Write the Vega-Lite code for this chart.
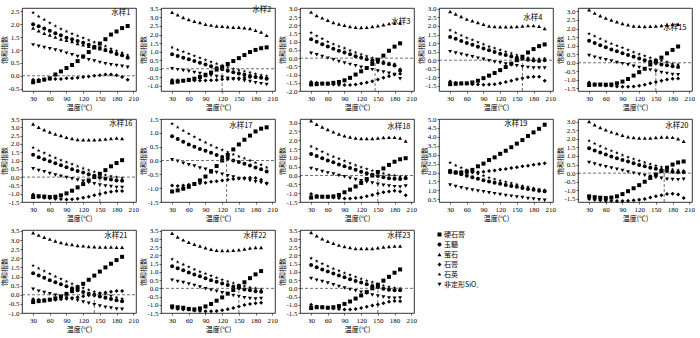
{
"$schema":"https://vega.github.io/schema/vega-lite/v6.json",
"autosize":{"type":"pad"},
"padding":{"left":0,"top":4,"right":0,"bottom":0},
"config":{
"view":{"stroke":"black","strokeWidth":0.8},
"axis":{"grid":false,"domain":false,"tickColor":"black","tickSize":2,"tickWidth":0.6,"labelFont":"Liberation Serif","labelFontSize":7,"labelColor":"black","labelPadding":1,"labelOverlap":false,"labelFlush":false,"labelBound":false,"titleFont":"Noto Sans CJK SC","titleFontSize":7,"titleFontWeight":"normal","titleColor":"black"},
"axisX":{"titlePadding":2},
"axisY":{"titlePadding":0},
"title":{"anchor":"end","font":"Noto Sans CJK SC","fontSize":7.5,"fontWeight":"normal","color":"black"},
"legend":{"orient":"none","legendX":414,"legendY":223,"labelFont":"Noto Sans CJK SC","labelFontSize":7,"labelColor":"black","symbolSize":16,"rowPadding":-1,"labelOffset":1},
"point":{"filled":true,"size":16,"color":"black","opacity":1},
"rule":{"strokeDash":[3,2],"color":"#333","strokeWidth":0.7},
"range":{"symbol":["square","circle","triangle-up","diamond","M0,-1L0.24,-0.33L0.95,-0.31L0.38,0.12L0.59,0.81L0,0.4L-0.59,0.81L-0.38,0.12L-0.95,-0.31L-0.24,-0.33Z","triangle-down"]}
},
"resolve":{"scale":{"x":"independent","y":"independent","shape":"shared"},"legend":{"shape":"shared"}},
"columns":5,
"spacing":{"row":28,"column":25},
"bounds":"flush",
"datasets":{
"names":[{"m":"a","n":"硬石膏"},{"m":"b","n":"玉髓"},{"m":"c","n":"萤石"},{"m":"d","n":"石膏"},{"m":"e","n":"石英"},{"m":"f","n":"非定形SiO₂"}],
"p1":[
{"m":"a","t":30,"v":-0.25},{"m":"a","t":40,"v":-0.2},{"m":"a","t":50,"v":-0.15},{"m":"a","t":60,"v":-0.1},{"m":"a","t":70,"v":0.05},{"m":"a","t":80,"v":0.17},{"m":"a","t":90,"v":0.3},{"m":"a","t":100,"v":0.42},{"m":"a","t":110,"v":0.57},{"m":"a","t":120,"v":0.75},{"m":"a","t":130,"v":0.92},{"m":"a","t":140,"v":1.1},{"m":"a","t":150,"v":1.25},{"m":"a","t":160,"v":1.42},{"m":"a","t":170,"v":1.6},{"m":"a","t":180,"v":1.72},{"m":"a","t":190,"v":1.85},{"m":"a","t":200,"v":1.93},
{"m":"b","t":30,"v":2.0},{"m":"b","t":40,"v":1.92},{"m":"b","t":50,"v":1.83},{"m":"b","t":60,"v":1.75},{"m":"b","t":70,"v":1.65},{"m":"b","t":80,"v":1.57},{"m":"b","t":90,"v":1.48},{"m":"b","t":100,"v":1.42},{"m":"b","t":110,"v":1.35},{"m":"b","t":120,"v":1.28},{"m":"b","t":130,"v":1.2},{"m":"b","t":140,"v":1.13},{"m":"b","t":150,"v":1.08},{"m":"b","t":160,"v":1.0},{"m":"b","t":170,"v":0.93},{"m":"b","t":180,"v":0.85},{"m":"b","t":190,"v":0.8},{"m":"b","t":200,"v":0.7},
{"m":"c","t":30,"v":1.85},{"m":"c","t":40,"v":1.75},{"m":"c","t":50,"v":1.65},{"m":"c","t":60,"v":1.58},{"m":"c","t":70,"v":1.5},{"m":"c","t":80,"v":1.43},{"m":"c","t":90,"v":1.38},{"m":"c","t":100,"v":1.33},{"m":"c","t":110,"v":1.25},{"m":"c","t":120,"v":1.2},{"m":"c","t":130,"v":1.15},{"m":"c","t":140,"v":1.1},{"m":"c","t":150,"v":1.05},{"m":"c","t":160,"v":1.0},{"m":"c","t":170,"v":0.95},{"m":"c","t":180,"v":0.9},{"m":"c","t":190,"v":0.83},{"m":"c","t":200,"v":0.75},
{"m":"d","t":30,"v":-0.15},{"m":"d","t":40,"v":-0.15},{"m":"d","t":50,"v":-0.13},{"m":"d","t":60,"v":-0.12},{"m":"d","t":70,"v":-0.12},{"m":"d","t":80,"v":-0.12},{"m":"d","t":90,"v":-0.1},{"m":"d","t":100,"v":-0.1},{"m":"d","t":110,"v":-0.08},{"m":"d","t":120,"v":-0.05},{"m":"d","t":130,"v":-0.03},{"m":"d","t":140,"v":0.0},{"m":"d","t":150,"v":0.02},{"m":"d","t":160,"v":0.05},{"m":"d","t":170,"v":0.05},{"m":"d","t":180,"v":0.02},{"m":"d","t":190,"v":-0.05},{"m":"d","t":200,"v":-0.15},
{"m":"e","t":30,"v":2.45},{"m":"e","t":40,"v":2.3},{"m":"e","t":50,"v":2.18},{"m":"e","t":60,"v":2.05},{"m":"e","t":70,"v":1.93},{"m":"e","t":80,"v":1.82},{"m":"e","t":90,"v":1.72},{"m":"e","t":100,"v":1.63},{"m":"e","t":110,"v":1.55},{"m":"e","t":120,"v":1.47},{"m":"e","t":130,"v":1.38},{"m":"e","t":140,"v":1.3},{"m":"e","t":150,"v":1.24},{"m":"e","t":160,"v":1.15},{"m":"e","t":170,"v":1.05},{"m":"e","t":180,"v":0.97},{"m":"e","t":190,"v":0.9},{"m":"e","t":200,"v":0.8},
{"m":"f","t":30,"v":1.2},{"m":"f","t":40,"v":1.15},{"m":"f","t":50,"v":1.1},{"m":"f","t":60,"v":1.05},{"m":"f","t":70,"v":1.0},{"m":"f","t":80,"v":0.95},{"m":"f","t":90,"v":0.88},{"m":"f","t":100,"v":0.82},{"m":"f","t":110,"v":0.75},{"m":"f","t":120,"v":0.7},{"m":"f","t":130,"v":0.62},{"m":"f","t":140,"v":0.57},{"m":"f","t":150,"v":0.52},{"m":"f","t":160,"v":0.47},{"m":"f","t":170,"v":0.43},{"m":"f","t":180,"v":0.4},{"m":"f","t":190,"v":0.37},{"m":"f","t":200,"v":0.33}
],
"p2":[
{"m":"a","t":30,"v":-0.8},{"m":"a","t":40,"v":-0.75},{"m":"a","t":50,"v":-0.7},{"m":"a","t":60,"v":-0.65},{"m":"a","t":70,"v":-0.58},{"m":"a","t":80,"v":-0.48},{"m":"a","t":90,"v":-0.38},{"m":"a","t":100,"v":-0.22},{"m":"a","t":110,"v":-0.05},{"m":"a","t":120,"v":0.1},{"m":"a","t":130,"v":0.28},{"m":"a","t":140,"v":0.45},{"m":"a","t":150,"v":0.62},{"m":"a","t":160,"v":0.8},{"m":"a","t":170,"v":0.98},{"m":"a","t":180,"v":1.1},{"m":"a","t":190,"v":1.2},{"m":"a","t":200,"v":1.25},
{"m":"b","t":30,"v":0.85},{"m":"b","t":40,"v":0.75},{"m":"b","t":50,"v":0.65},{"m":"b","t":60,"v":0.55},{"m":"b","t":70,"v":0.45},{"m":"b","t":80,"v":0.35},{"m":"b","t":90,"v":0.25},{"m":"b","t":100,"v":0.15},{"m":"b","t":110,"v":0.05},{"m":"b","t":120,"v":-0.03},{"m":"b","t":130,"v":-0.12},{"m":"b","t":140,"v":-0.2},{"m":"b","t":150,"v":-0.28},{"m":"b","t":160,"v":-0.35},{"m":"b","t":170,"v":-0.42},{"m":"b","t":180,"v":-0.48},{"m":"b","t":190,"v":-0.53},{"m":"b","t":200,"v":-0.58},
{"m":"c","t":30,"v":3.3},{"m":"c","t":40,"v":3.15},{"m":"c","t":50,"v":3.0},{"m":"c","t":60,"v":2.88},{"m":"c","t":70,"v":2.78},{"m":"c","t":80,"v":2.7},{"m":"c","t":90,"v":2.6},{"m":"c","t":100,"v":2.55},{"m":"c","t":110,"v":2.5},{"m":"c","t":120,"v":2.48},{"m":"c","t":130,"v":2.45},{"m":"c","t":140,"v":2.43},{"m":"c","t":150,"v":2.42},{"m":"c","t":160,"v":2.4},{"m":"c","t":170,"v":2.35},{"m":"c","t":180,"v":2.25},{"m":"c","t":190,"v":2.15},{"m":"c","t":200,"v":1.95},
{"m":"d","t":30,"v":-0.65},{"m":"d","t":40,"v":-0.67},{"m":"d","t":50,"v":-0.68},{"m":"d","t":60,"v":-0.68},{"m":"d","t":70,"v":-0.68},{"m":"d","t":80,"v":-0.68},{"m":"d","t":90,"v":-0.68},{"m":"d","t":100,"v":-0.67},{"m":"d","t":110,"v":-0.65},{"m":"d","t":120,"v":-0.62},{"m":"d","t":130,"v":-0.6},{"m":"d","t":140,"v":-0.58},{"m":"d","t":150,"v":-0.55},{"m":"d","t":160,"v":-0.53},{"m":"d","t":170,"v":-0.5},{"m":"d","t":180,"v":-0.48},{"m":"d","t":190,"v":-0.5},{"m":"d","t":200,"v":-0.55},
{"m":"e","t":30,"v":1.25},{"m":"e","t":40,"v":1.12},{"m":"e","t":50,"v":1.0},{"m":"e","t":60,"v":0.88},{"m":"e","t":70,"v":0.75},{"m":"e","t":80,"v":0.63},{"m":"e","t":90,"v":0.52},{"m":"e","t":100,"v":0.4},{"m":"e","t":110,"v":0.3},{"m":"e","t":120,"v":0.2},{"m":"e","t":130,"v":0.1},{"m":"e","t":140,"v":0.0},{"m":"e","t":150,"v":-0.08},{"m":"e","t":160,"v":-0.15},{"m":"e","t":170,"v":-0.22},{"m":"e","t":180,"v":-0.3},{"m":"e","t":190,"v":-0.37},{"m":"e","t":200,"v":-0.43},
{"m":"f","t":30,"v":0.0},{"m":"f","t":40,"v":-0.05},{"m":"f","t":50,"v":-0.1},{"m":"f","t":60,"v":-0.15},{"m":"f","t":70,"v":-0.22},{"m":"f","t":80,"v":-0.28},{"m":"f","t":90,"v":-0.33},{"m":"f","t":100,"v":-0.4},{"m":"f","t":110,"v":-0.45},{"m":"f","t":120,"v":-0.5},{"m":"f","t":130,"v":-0.55},{"m":"f","t":140,"v":-0.6},{"m":"f","t":150,"v":-0.65},{"m":"f","t":160,"v":-0.7},{"m":"f","t":170,"v":-0.75},{"m":"f","t":180,"v":-0.82},{"m":"f","t":190,"v":-0.87},{"m":"f","t":200,"v":-0.92}
],
"p3":[
{"m":"a","t":30,"v":-1.6},{"m":"a","t":40,"v":-1.58},{"m":"a","t":50,"v":-1.55},{"m":"a","t":60,"v":-1.55},{"m":"a","t":70,"v":-1.5},{"m":"a","t":80,"v":-1.45},{"m":"a","t":90,"v":-1.35},{"m":"a","t":100,"v":-1.2},{"m":"a","t":110,"v":-1.0},{"m":"a","t":120,"v":-0.8},{"m":"a","t":130,"v":-0.6},{"m":"a","t":140,"v":-0.35},{"m":"a","t":150,"v":-0.1},{"m":"a","t":160,"v":0.15},{"m":"a","t":170,"v":0.45},{"m":"a","t":180,"v":0.7},{"m":"a","t":190,"v":0.9},
{"m":"b","t":30,"v":1.15},{"m":"b","t":40,"v":1.0},{"m":"b","t":50,"v":0.85},{"m":"b","t":60,"v":0.7},{"m":"b","t":70,"v":0.57},{"m":"b","t":80,"v":0.45},{"m":"b","t":90,"v":0.35},{"m":"b","t":100,"v":0.23},{"m":"b","t":110,"v":0.12},{"m":"b","t":120,"v":0.02},{"m":"b","t":130,"v":-0.07},{"m":"b","t":140,"v":-0.15},{"m":"b","t":150,"v":-0.23},{"m":"b","t":160,"v":-0.3},{"m":"b","t":170,"v":-0.38},{"m":"b","t":180,"v":-0.45},{"m":"b","t":190,"v":-0.75},
{"m":"c","t":30,"v":2.8},{"m":"c","t":40,"v":2.6},{"m":"c","t":50,"v":2.45},{"m":"c","t":60,"v":2.3},{"m":"c","t":70,"v":2.17},{"m":"c","t":80,"v":2.07},{"m":"c","t":90,"v":2.0},{"m":"c","t":100,"v":1.93},{"m":"c","t":110,"v":1.88},{"m":"c","t":120,"v":1.87},{"m":"c","t":130,"v":1.88},{"m":"c","t":140,"v":1.92},{"m":"c","t":150,"v":1.97},{"m":"c","t":160,"v":2.03},{"m":"c","t":170,"v":2.1},{"m":"c","t":180,"v":2.13},{"m":"c","t":190,"v":2.13},
{"m":"d","t":30,"v":-1.45},{"m":"d","t":40,"v":-1.5},{"m":"d","t":50,"v":-1.55},{"m":"d","t":60,"v":-1.58},{"m":"d","t":70,"v":-1.6},{"m":"d","t":80,"v":-1.62},{"m":"d","t":90,"v":-1.63},{"m":"d","t":100,"v":-1.63},{"m":"d","t":110,"v":-1.6},{"m":"d","t":120,"v":-1.55},{"m":"d","t":130,"v":-1.48},{"m":"d","t":140,"v":-1.4},{"m":"d","t":150,"v":-1.3},{"m":"d","t":160,"v":-1.2},{"m":"d","t":170,"v":-1.1},{"m":"d","t":180,"v":-1.0},{"m":"d","t":190,"v":-0.95},
{"m":"e","t":30,"v":1.55},{"m":"e","t":40,"v":1.35},{"m":"e","t":50,"v":1.18},{"m":"e","t":60,"v":1.0},{"m":"e","t":70,"v":0.85},{"m":"e","t":80,"v":0.72},{"m":"e","t":90,"v":0.6},{"m":"e","t":100,"v":0.47},{"m":"e","t":110,"v":0.35},{"m":"e","t":120,"v":0.23},{"m":"e","t":130,"v":0.12},{"m":"e","t":140,"v":0.02},{"m":"e","t":150,"v":-0.1},{"m":"e","t":160,"v":-0.2},{"m":"e","t":170,"v":-0.3},{"m":"e","t":180,"v":-0.35},{"m":"e","t":190,"v":-0.65},
{"m":"f","t":30,"v":0.3},{"m":"f","t":40,"v":0.2},{"m":"f","t":50,"v":0.1},{"m":"f","t":60,"v":0.0},{"m":"f","t":70,"v":-0.1},{"m":"f","t":80,"v":-0.2},{"m":"f","t":90,"v":-0.3},{"m":"f","t":100,"v":-0.38},{"m":"f","t":110,"v":-0.47},{"m":"f","t":120,"v":-0.55},{"m":"f","t":130,"v":-0.63},{"m":"f","t":140,"v":-0.7},{"m":"f","t":150,"v":-0.78},{"m":"f","t":160,"v":-0.85},{"m":"f","t":170,"v":-0.92},{"m":"f","t":180,"v":-1.0},{"m":"f","t":190,"v":-1.25}
],
"p4":[
{"m":"a","t":30,"v":-1.4},{"m":"a","t":40,"v":-1.38},{"m":"a","t":50,"v":-1.36},{"m":"a","t":60,"v":-1.35},{"m":"a","t":70,"v":-1.3},{"m":"a","t":80,"v":-1.2},{"m":"a","t":90,"v":-1.05},{"m":"a","t":100,"v":-0.9},{"m":"a","t":110,"v":-0.75},{"m":"a","t":120,"v":-0.58},{"m":"a","t":130,"v":-0.4},{"m":"a","t":140,"v":-0.2},{"m":"a","t":150,"v":0.0},{"m":"a","t":160,"v":0.2},{"m":"a","t":170,"v":0.45},{"m":"a","t":180,"v":0.65},{"m":"a","t":190,"v":0.82},{"m":"a","t":200,"v":0.92},
{"m":"b","t":30,"v":1.35},{"m":"b","t":40,"v":1.25},{"m":"b","t":50,"v":1.12},{"m":"b","t":60,"v":1.0},{"m":"b","t":70,"v":0.9},{"m":"b","t":80,"v":0.78},{"m":"b","t":90,"v":0.68},{"m":"b","t":100,"v":0.58},{"m":"b","t":110,"v":0.48},{"m":"b","t":120,"v":0.38},{"m":"b","t":130,"v":0.3},{"m":"b","t":140,"v":0.22},{"m":"b","t":150,"v":0.15},{"m":"b","t":160,"v":0.08},{"m":"b","t":170,"v":0.02},{"m":"b","t":180,"v":-0.02},{"m":"b","t":190,"v":-0.05},{"m":"b","t":200,"v":0.0},
{"m":"c","t":30,"v":2.85},{"m":"c","t":40,"v":2.7},{"m":"c","t":50,"v":2.55},{"m":"c","t":60,"v":2.4},{"m":"c","t":70,"v":2.3},{"m":"c","t":80,"v":2.2},{"m":"c","t":90,"v":2.1},{"m":"c","t":100,"v":2.0},{"m":"c","t":110,"v":1.97},{"m":"c","t":120,"v":1.95},{"m":"c","t":130,"v":1.95},{"m":"c","t":140,"v":1.95},{"m":"c","t":150,"v":1.97},{"m":"c","t":160,"v":2.0},{"m":"c","t":170,"v":2.02},{"m":"c","t":180,"v":2.02},{"m":"c","t":190,"v":1.98},{"m":"c","t":200,"v":1.85},
{"m":"d","t":30,"v":-1.25},{"m":"d","t":40,"v":-1.32},{"m":"d","t":50,"v":-1.35},{"m":"d","t":60,"v":-1.38},{"m":"d","t":70,"v":-1.4},{"m":"d","t":80,"v":-1.42},{"m":"d","t":90,"v":-1.43},{"m":"d","t":100,"v":-1.42},{"m":"d","t":110,"v":-1.4},{"m":"d","t":120,"v":-1.35},{"m":"d","t":130,"v":-1.28},{"m":"d","t":140,"v":-1.2},{"m":"d","t":150,"v":-1.12},{"m":"d","t":160,"v":-1.05},{"m":"d","t":170,"v":-1.0},{"m":"d","t":180,"v":-0.97},{"m":"d","t":190,"v":-0.97},{"m":"d","t":200,"v":-1.2},
{"m":"e","t":30,"v":1.75},{"m":"e","t":40,"v":1.6},{"m":"e","t":50,"v":1.45},{"m":"e","t":60,"v":1.3},{"m":"e","t":70,"v":1.18},{"m":"e","t":80,"v":1.05},{"m":"e","t":90,"v":0.93},{"m":"e","t":100,"v":0.8},{"m":"e","t":110,"v":0.7},{"m":"e","t":120,"v":0.6},{"m":"e","t":130,"v":0.5},{"m":"e","t":140,"v":0.4},{"m":"e","t":150,"v":0.3},{"m":"e","t":160,"v":0.22},{"m":"e","t":170,"v":0.15},{"m":"e","t":180,"v":0.1},{"m":"e","t":190,"v":0.08},{"m":"e","t":200,"v":0.1},
{"m":"f","t":30,"v":0.5},{"m":"f","t":40,"v":0.42},{"m":"f","t":50,"v":0.35},{"m":"f","t":60,"v":0.28},{"m":"f","t":70,"v":0.2},{"m":"f","t":80,"v":0.12},{"m":"f","t":90,"v":0.05},{"m":"f","t":100,"v":-0.03},{"m":"f","t":110,"v":-0.1},{"m":"f","t":120,"v":-0.15},{"m":"f","t":130,"v":-0.22},{"m":"f","t":140,"v":-0.28},{"m":"f","t":150,"v":-0.33},{"m":"f","t":160,"v":-0.38},{"m":"f","t":170,"v":-0.42},{"m":"f","t":180,"v":-0.45},{"m":"f","t":190,"v":-0.45},{"m":"f","t":200,"v":-0.45}
],
"p15":[
{"m":"a","t":30,"v":-1.3},{"m":"a","t":40,"v":-1.28},{"m":"a","t":50,"v":-1.27},{"m":"a","t":60,"v":-1.28},{"m":"a","t":70,"v":-1.27},{"m":"a","t":80,"v":-1.2},{"m":"a","t":90,"v":-1.1},{"m":"a","t":100,"v":-0.95},{"m":"a","t":110,"v":-0.75},{"m":"a","t":120,"v":-0.55},{"m":"a","t":130,"v":-0.35},{"m":"a","t":140,"v":-0.1},{"m":"a","t":150,"v":0.1},{"m":"a","t":160,"v":0.3},{"m":"a","t":170,"v":0.55},{"m":"a","t":180,"v":0.75},{"m":"a","t":190,"v":0.95},
{"m":"b","t":30,"v":1.28},{"m":"b","t":40,"v":1.15},{"m":"b","t":50,"v":1.02},{"m":"b","t":60,"v":0.9},{"m":"b","t":70,"v":0.78},{"m":"b","t":80,"v":0.67},{"m":"b","t":90,"v":0.56},{"m":"b","t":100,"v":0.45},{"m":"b","t":110,"v":0.35},{"m":"b","t":120,"v":0.25},{"m":"b","t":130,"v":0.15},{"m":"b","t":140,"v":0.07},{"m":"b","t":150,"v":-0.02},{"m":"b","t":160,"v":-0.1},{"m":"b","t":170,"v":-0.15},{"m":"b","t":180,"v":-0.2},{"m":"b","t":190,"v":-0.25},
{"m":"c","t":30,"v":3.1},{"m":"c","t":40,"v":2.9},{"m":"c","t":50,"v":2.75},{"m":"c","t":60,"v":2.62},{"m":"c","t":70,"v":2.5},{"m":"c","t":80,"v":2.4},{"m":"c","t":90,"v":2.3},{"m":"c","t":100,"v":2.22},{"m":"c","t":110,"v":2.15},{"m":"c","t":120,"v":2.13},{"m":"c","t":130,"v":2.12},{"m":"c","t":140,"v":2.13},{"m":"c","t":150,"v":2.15},{"m":"c","t":160,"v":2.18},{"m":"c","t":170,"v":2.22},{"m":"c","t":180,"v":2.25},{"m":"c","t":190,"v":2.25},
{"m":"d","t":30,"v":-1.15},{"m":"d","t":40,"v":-1.25},{"m":"d","t":50,"v":-1.3},{"m":"d","t":60,"v":-1.33},{"m":"d","t":70,"v":-1.35},{"m":"d","t":80,"v":-1.38},{"m":"d","t":90,"v":-1.4},{"m":"d","t":100,"v":-1.4},{"m":"d","t":110,"v":-1.38},{"m":"d","t":120,"v":-1.35},{"m":"d","t":130,"v":-1.28},{"m":"d","t":140,"v":-1.2},{"m":"d","t":150,"v":-1.12},{"m":"d","t":160,"v":-1.05},{"m":"d","t":170,"v":-0.98},{"m":"d","t":180,"v":-0.93},{"m":"d","t":190,"v":-0.92},
{"m":"e","t":30,"v":1.7},{"m":"e","t":40,"v":1.55},{"m":"e","t":50,"v":1.4},{"m":"e","t":60,"v":1.25},{"m":"e","t":70,"v":1.12},{"m":"e","t":80,"v":1.0},{"m":"e","t":90,"v":0.88},{"m":"e","t":100,"v":0.75},{"m":"e","t":110,"v":0.62},{"m":"e","t":120,"v":0.5},{"m":"e","t":130,"v":0.4},{"m":"e","t":140,"v":0.3},{"m":"e","t":150,"v":0.2},{"m":"e","t":160,"v":0.12},{"m":"e","t":170,"v":0.05},{"m":"e","t":180,"v":-0.05},{"m":"e","t":190,"v":-0.1},
{"m":"f","t":30,"v":0.42},{"m":"f","t":40,"v":0.33},{"m":"f","t":50,"v":0.25},{"m":"f","t":60,"v":0.17},{"m":"f","t":70,"v":0.1},{"m":"f","t":80,"v":0.02},{"m":"f","t":90,"v":-0.05},{"m":"f","t":100,"v":-0.12},{"m":"f","t":110,"v":-0.2},{"m":"f","t":120,"v":-0.27},{"m":"f","t":130,"v":-0.35},{"m":"f","t":140,"v":-0.42},{"m":"f","t":150,"v":-0.5},{"m":"f","t":160,"v":-0.57},{"m":"f","t":170,"v":-0.62},{"m":"f","t":180,"v":-0.68},{"m":"f","t":190,"v":-0.7}
],
"p16":[
{"m":"a","t":30,"v":-1.2},{"m":"a","t":40,"v":-1.15},{"m":"a","t":50,"v":-1.17},{"m":"a","t":60,"v":-1.2},{"m":"a","t":70,"v":-1.18},{"m":"a","t":80,"v":-1.1},{"m":"a","t":90,"v":-0.98},{"m":"a","t":100,"v":-0.82},{"m":"a","t":110,"v":-0.62},{"m":"a","t":120,"v":-0.42},{"m":"a","t":130,"v":-0.2},{"m":"a","t":140,"v":0.0},{"m":"a","t":150,"v":0.2},{"m":"a","t":160,"v":0.42},{"m":"a","t":170,"v":0.65},{"m":"a","t":180,"v":0.85},{"m":"a","t":190,"v":1.02},
{"m":"b","t":30,"v":1.35},{"m":"b","t":40,"v":1.2},{"m":"b","t":50,"v":1.07},{"m":"b","t":60,"v":0.95},{"m":"b","t":70,"v":0.83},{"m":"b","t":80,"v":0.72},{"m":"b","t":90,"v":0.6},{"m":"b","t":100,"v":0.48},{"m":"b","t":110,"v":0.37},{"m":"b","t":120,"v":0.27},{"m":"b","t":130,"v":0.17},{"m":"b","t":140,"v":0.08},{"m":"b","t":150,"v":-0.02},{"m":"b","t":160,"v":-0.1},{"m":"b","t":170,"v":-0.15},{"m":"b","t":180,"v":-0.2},{"m":"b","t":190,"v":-0.22},
{"m":"c","t":30,"v":3.2},{"m":"c","t":40,"v":3.0},{"m":"c","t":50,"v":2.85},{"m":"c","t":60,"v":2.72},{"m":"c","t":70,"v":2.6},{"m":"c","t":80,"v":2.5},{"m":"c","t":90,"v":2.4},{"m":"c","t":100,"v":2.32},{"m":"c","t":110,"v":2.27},{"m":"c","t":120,"v":2.25},{"m":"c","t":130,"v":2.25},{"m":"c","t":140,"v":2.25},{"m":"c","t":150,"v":2.27},{"m":"c","t":160,"v":2.3},{"m":"c","t":170,"v":2.33},{"m":"c","t":180,"v":2.35},{"m":"c","t":190,"v":2.32},
{"m":"d","t":30,"v":-1.05},{"m":"d","t":40,"v":-1.2},{"m":"d","t":50,"v":-1.25},{"m":"d","t":60,"v":-1.27},{"m":"d","t":70,"v":-1.3},{"m":"d","t":80,"v":-1.32},{"m":"d","t":90,"v":-1.35},{"m":"d","t":100,"v":-1.33},{"m":"d","t":110,"v":-1.3},{"m":"d","t":120,"v":-1.25},{"m":"d","t":130,"v":-1.18},{"m":"d","t":140,"v":-1.1},{"m":"d","t":150,"v":-1.02},{"m":"d","t":160,"v":-0.95},{"m":"d","t":170,"v":-0.88},{"m":"d","t":180,"v":-0.83},{"m":"d","t":190,"v":-0.83},
{"m":"e","t":30,"v":1.78},{"m":"e","t":40,"v":1.6},{"m":"e","t":50,"v":1.45},{"m":"e","t":60,"v":1.3},{"m":"e","t":70,"v":1.15},{"m":"e","t":80,"v":1.02},{"m":"e","t":90,"v":0.9},{"m":"e","t":100,"v":0.78},{"m":"e","t":110,"v":0.65},{"m":"e","t":120,"v":0.53},{"m":"e","t":130,"v":0.42},{"m":"e","t":140,"v":0.32},{"m":"e","t":150,"v":0.22},{"m":"e","t":160,"v":0.12},{"m":"e","t":170,"v":0.05},{"m":"e","t":180,"v":0.0},{"m":"e","t":190,"v":-0.05},
{"m":"f","t":30,"v":0.5},{"m":"f","t":40,"v":0.4},{"m":"f","t":50,"v":0.32},{"m":"f","t":60,"v":0.22},{"m":"f","t":70,"v":0.13},{"m":"f","t":80,"v":0.05},{"m":"f","t":90,"v":-0.03},{"m":"f","t":100,"v":-0.1},{"m":"f","t":110,"v":-0.18},{"m":"f","t":120,"v":-0.25},{"m":"f","t":130,"v":-0.32},{"m":"f","t":140,"v":-0.4},{"m":"f","t":150,"v":-0.47},{"m":"f","t":160,"v":-0.53},{"m":"f","t":170,"v":-0.57},{"m":"f","t":180,"v":-0.62},{"m":"f","t":190,"v":-0.62}
],
"p17":[
{"m":"a","t":30,"v":-1.12},{"m":"a","t":40,"v":-1.08},{"m":"a","t":50,"v":-1.02},{"m":"a","t":60,"v":-0.95},{"m":"a","t":70,"v":-0.85},{"m":"a","t":80,"v":-0.72},{"m":"a","t":90,"v":-0.58},{"m":"a","t":100,"v":-0.4},{"m":"a","t":110,"v":-0.2},{"m":"a","t":120,"v":0.0},{"m":"a","t":130,"v":0.2},{"m":"a","t":140,"v":0.4},{"m":"a","t":150,"v":0.58},{"m":"a","t":160,"v":0.75},{"m":"a","t":170,"v":0.9},{"m":"a","t":180,"v":1.05},{"m":"a","t":190,"v":1.15},{"m":"a","t":200,"v":1.2},
{"m":"b","t":30,"v":0.88},{"m":"b","t":40,"v":0.78},{"m":"b","t":50,"v":0.68},{"m":"b","t":60,"v":0.58},{"m":"b","t":70,"v":0.5},{"m":"b","t":80,"v":0.42},{"m":"b","t":90,"v":0.35},{"m":"b","t":100,"v":0.28},{"m":"b","t":110,"v":0.2},{"m":"b","t":120,"v":0.13},{"m":"b","t":130,"v":0.07},{"m":"b","t":140,"v":0.0},{"m":"b","t":150,"v":-0.05},{"m":"b","t":160,"v":-0.12},{"m":"b","t":170,"v":-0.18},{"m":"b","t":180,"v":-0.25},{"m":"b","t":190,"v":-0.32},{"m":"b","t":200,"v":-0.4},
{"m":"d","t":30,"v":-0.9},{"m":"d","t":40,"v":-0.92},{"m":"d","t":50,"v":-0.9},{"m":"d","t":60,"v":-0.88},{"m":"d","t":70,"v":-0.85},{"m":"d","t":80,"v":-0.82},{"m":"d","t":90,"v":-0.8},{"m":"d","t":100,"v":-0.77},{"m":"d","t":110,"v":-0.75},{"m":"d","t":120,"v":-0.72},{"m":"d","t":130,"v":-0.7},{"m":"d","t":140,"v":-0.67},{"m":"d","t":150,"v":-0.65},{"m":"d","t":160,"v":-0.63},{"m":"d","t":170,"v":-0.62},{"m":"d","t":180,"v":-0.63},{"m":"d","t":190,"v":-0.7},{"m":"d","t":200,"v":-0.82},
{"m":"e","t":30,"v":1.33},{"m":"e","t":40,"v":1.2},{"m":"e","t":50,"v":1.08},{"m":"e","t":60,"v":0.97},{"m":"e","t":70,"v":0.85},{"m":"e","t":80,"v":0.75},{"m":"e","t":90,"v":0.65},{"m":"e","t":100,"v":0.55},{"m":"e","t":110,"v":0.46},{"m":"e","t":120,"v":0.38},{"m":"e","t":130,"v":0.3},{"m":"e","t":140,"v":0.22},{"m":"e","t":150,"v":0.15},{"m":"e","t":160,"v":0.08},{"m":"e","t":170,"v":0.0},{"m":"e","t":180,"v":-0.08},{"m":"e","t":190,"v":-0.15},{"m":"e","t":200,"v":-0.25},
{"m":"f","t":30,"v":0.03},{"m":"f","t":40,"v":-0.03},{"m":"f","t":50,"v":-0.1},{"m":"f","t":60,"v":-0.15},{"m":"f","t":70,"v":-0.2},{"m":"f","t":80,"v":-0.27},{"m":"f","t":90,"v":-0.32},{"m":"f","t":100,"v":-0.38},{"m":"f","t":110,"v":-0.43},{"m":"f","t":120,"v":-0.5},{"m":"f","t":130,"v":-0.55},{"m":"f","t":140,"v":-0.6},{"m":"f","t":150,"v":-0.65},{"m":"f","t":160,"v":-0.68},{"m":"f","t":170,"v":-0.72},{"m":"f","t":180,"v":-0.77},{"m":"f","t":190,"v":-0.8},{"m":"f","t":200,"v":-0.85}
],
"p18":[
{"m":"a","t":30,"v":-1.25},{"m":"a","t":40,"v":-1.2},{"m":"a","t":50,"v":-1.2},{"m":"a","t":60,"v":-1.2},{"m":"a","t":70,"v":-1.18},{"m":"a","t":80,"v":-1.1},{"m":"a","t":90,"v":-0.95},{"m":"a","t":100,"v":-0.8},{"m":"a","t":110,"v":-0.62},{"m":"a","t":120,"v":-0.42},{"m":"a","t":130,"v":-0.2},{"m":"a","t":140,"v":0.0},{"m":"a","t":150,"v":0.2},{"m":"a","t":160,"v":0.4},{"m":"a","t":170,"v":0.6},{"m":"a","t":180,"v":0.78},{"m":"a","t":190,"v":0.92},{"m":"a","t":200,"v":0.98},
{"m":"b","t":30,"v":1.22},{"m":"b","t":40,"v":1.1},{"m":"b","t":50,"v":0.98},{"m":"b","t":60,"v":0.85},{"m":"b","t":70,"v":0.75},{"m":"b","t":80,"v":0.63},{"m":"b","t":90,"v":0.52},{"m":"b","t":100,"v":0.42},{"m":"b","t":110,"v":0.32},{"m":"b","t":120,"v":0.22},{"m":"b","t":130,"v":0.13},{"m":"b","t":140,"v":0.05},{"m":"b","t":150,"v":-0.03},{"m":"b","t":160,"v":-0.1},{"m":"b","t":170,"v":-0.15},{"m":"b","t":180,"v":-0.18},{"m":"b","t":190,"v":-0.2},{"m":"b","t":200,"v":-0.15},
{"m":"c","t":30,"v":3.1},{"m":"c","t":40,"v":2.9},{"m":"c","t":50,"v":2.75},{"m":"c","t":60,"v":2.6},{"m":"c","t":70,"v":2.47},{"m":"c","t":80,"v":2.35},{"m":"c","t":90,"v":2.25},{"m":"c","t":100,"v":2.18},{"m":"c","t":110,"v":2.13},{"m":"c","t":120,"v":2.1},{"m":"c","t":130,"v":2.1},{"m":"c","t":140,"v":2.1},{"m":"c","t":150,"v":2.12},{"m":"c","t":160,"v":2.15},{"m":"c","t":170,"v":2.17},{"m":"c","t":180,"v":2.17},{"m":"c","t":190,"v":2.12},{"m":"c","t":200,"v":1.95},
{"m":"d","t":30,"v":-1.05},{"m":"d","t":40,"v":-1.15},{"m":"d","t":50,"v":-1.2},{"m":"d","t":60,"v":-1.22},{"m":"d","t":70,"v":-1.25},{"m":"d","t":80,"v":-1.28},{"m":"d","t":90,"v":-1.3},{"m":"d","t":100,"v":-1.3},{"m":"d","t":110,"v":-1.28},{"m":"d","t":120,"v":-1.25},{"m":"d","t":130,"v":-1.18},{"m":"d","t":140,"v":-1.1},{"m":"d","t":150,"v":-1.02},{"m":"d","t":160,"v":-0.95},{"m":"d","t":170,"v":-0.9},{"m":"d","t":180,"v":-0.87},{"m":"d","t":190,"v":-0.9},{"m":"d","t":200,"v":-1.12},
{"m":"e","t":30,"v":1.65},{"m":"e","t":40,"v":1.5},{"m":"e","t":50,"v":1.35},{"m":"e","t":60,"v":1.2},{"m":"e","t":70,"v":1.07},{"m":"e","t":80,"v":0.95},{"m":"e","t":90,"v":0.82},{"m":"e","t":100,"v":0.7},{"m":"e","t":110,"v":0.58},{"m":"e","t":120,"v":0.47},{"m":"e","t":130,"v":0.37},{"m":"e","t":140,"v":0.28},{"m":"e","t":150,"v":0.2},{"m":"e","t":160,"v":0.12},{"m":"e","t":170,"v":0.05},{"m":"e","t":180,"v":0.0},{"m":"e","t":190,"v":-0.05},{"m":"e","t":200,"v":-0.05},
{"m":"f","t":30,"v":0.4},{"m":"f","t":40,"v":0.32},{"m":"f","t":50,"v":0.23},{"m":"f","t":60,"v":0.15},{"m":"f","t":70,"v":0.08},{"m":"f","t":80,"v":0.0},{"m":"f","t":90,"v":-0.07},{"m":"f","t":100,"v":-0.15},{"m":"f","t":110,"v":-0.22},{"m":"f","t":120,"v":-0.3},{"m":"f","t":130,"v":-0.37},{"m":"f","t":140,"v":-0.43},{"m":"f","t":150,"v":-0.5},{"m":"f","t":160,"v":-0.55},{"m":"f","t":170,"v":-0.6},{"m":"f","t":180,"v":-0.63},{"m":"f","t":190,"v":-0.65},{"m":"f","t":200,"v":-0.6}
],
"p19":[
{"m":"a","t":30,"v":2.05},{"m":"a","t":40,"v":2.0},{"m":"a","t":50,"v":2.0},{"m":"a","t":60,"v":2.05},{"m":"a","t":70,"v":2.15},{"m":"a","t":80,"v":2.35},{"m":"a","t":90,"v":2.5},{"m":"a","t":100,"v":2.7},{"m":"a","t":110,"v":2.85},{"m":"a","t":120,"v":3.05},{"m":"a","t":130,"v":3.22},{"m":"a","t":140,"v":3.42},{"m":"a","t":150,"v":3.62},{"m":"a","t":160,"v":3.82},{"m":"a","t":170,"v":4.05},{"m":"a","t":180,"v":4.25},{"m":"a","t":190,"v":4.45},{"m":"a","t":200,"v":4.68},
{"m":"b","t":30,"v":2.1},{"m":"b","t":40,"v":2.0},{"m":"b","t":50,"v":1.9},{"m":"b","t":60,"v":1.82},{"m":"b","t":70,"v":1.73},{"m":"b","t":80,"v":1.65},{"m":"b","t":90,"v":1.57},{"m":"b","t":100,"v":1.5},{"m":"b","t":110,"v":1.43},{"m":"b","t":120,"v":1.37},{"m":"b","t":130,"v":1.3},{"m":"b","t":140,"v":1.25},{"m":"b","t":150,"v":1.2},{"m":"b","t":160,"v":1.13},{"m":"b","t":170,"v":1.08},{"m":"b","t":180,"v":1.03},{"m":"b","t":190,"v":0.98},{"m":"b","t":200,"v":0.95},
{"m":"d","t":30,"v":2.0},{"m":"d","t":40,"v":2.02},{"m":"d","t":50,"v":2.03},{"m":"d","t":60,"v":2.03},{"m":"d","t":70,"v":2.02},{"m":"d","t":80,"v":2.02},{"m":"d","t":90,"v":2.05},{"m":"d","t":100,"v":2.08},{"m":"d","t":110,"v":2.12},{"m":"d","t":120,"v":2.17},{"m":"d","t":130,"v":2.2},{"m":"d","t":140,"v":2.25},{"m":"d","t":150,"v":2.3},{"m":"d","t":160,"v":2.35},{"m":"d","t":170,"v":2.38},{"m":"d","t":180,"v":2.43},{"m":"d","t":190,"v":2.48},{"m":"d","t":200,"v":2.52},
{"m":"e","t":30,"v":2.55},{"m":"e","t":40,"v":2.4},{"m":"e","t":50,"v":2.27},{"m":"e","t":60,"v":2.15},{"m":"e","t":70,"v":2.03},{"m":"e","t":80,"v":1.92},{"m":"e","t":90,"v":1.82},{"m":"e","t":100,"v":1.72},{"m":"e","t":110,"v":1.63},{"m":"e","t":120,"v":1.55},{"m":"e","t":130,"v":1.47},{"m":"e","t":140,"v":1.4},{"m":"e","t":150,"v":1.33},{"m":"e","t":160,"v":1.25},{"m":"e","t":170,"v":1.2},{"m":"e","t":180,"v":1.13},{"m":"e","t":190,"v":1.07},{"m":"e","t":200,"v":1.02},
{"m":"f","t":30,"v":1.3},{"m":"f","t":40,"v":1.22},{"m":"f","t":50,"v":1.15},{"m":"f","t":60,"v":1.08},{"m":"f","t":70,"v":1.02},{"m":"f","t":80,"v":0.97},{"m":"f","t":90,"v":0.92},{"m":"f","t":100,"v":0.87},{"m":"f","t":110,"v":0.82},{"m":"f","t":120,"v":0.77},{"m":"f","t":130,"v":0.72},{"m":"f","t":140,"v":0.68},{"m":"f","t":150,"v":0.63},{"m":"f","t":160,"v":0.6},{"m":"f","t":170,"v":0.55},{"m":"f","t":180,"v":0.52},{"m":"f","t":190,"v":0.48},{"m":"f","t":200,"v":0.45}
],
"p20":[
{"m":"a","t":30,"v":-1.35},{"m":"a","t":40,"v":-1.4},{"m":"a","t":50,"v":-1.43},{"m":"a","t":60,"v":-1.45},{"m":"a","t":70,"v":-1.42},{"m":"a","t":80,"v":-1.35},{"m":"a","t":90,"v":-1.22},{"m":"a","t":100,"v":-1.05},{"m":"a","t":110,"v":-0.88},{"m":"a","t":120,"v":-0.7},{"m":"a","t":130,"v":-0.5},{"m":"a","t":140,"v":-0.28},{"m":"a","t":150,"v":-0.08},{"m":"a","t":160,"v":0.12},{"m":"a","t":170,"v":0.32},{"m":"a","t":180,"v":0.5},{"m":"a","t":190,"v":0.62},{"m":"a","t":200,"v":0.68},
{"m":"b","t":30,"v":1.45},{"m":"b","t":40,"v":1.32},{"m":"b","t":50,"v":1.2},{"m":"b","t":60,"v":1.08},{"m":"b","t":70,"v":0.97},{"m":"b","t":80,"v":0.87},{"m":"b","t":90,"v":0.77},{"m":"b","t":100,"v":0.67},{"m":"b","t":110,"v":0.57},{"m":"b","t":120,"v":0.48},{"m":"b","t":130,"v":0.4},{"m":"b","t":140,"v":0.32},{"m":"b","t":150,"v":0.25},{"m":"b","t":160,"v":0.18},{"m":"b","t":170,"v":0.12},{"m":"b","t":180,"v":0.08},{"m":"b","t":190,"v":0.05},{"m":"b","t":200,"v":0.05},
{"m":"c","t":30,"v":3.0},{"m":"c","t":40,"v":2.82},{"m":"c","t":50,"v":2.65},{"m":"c","t":60,"v":2.52},{"m":"c","t":70,"v":2.4},{"m":"c","t":80,"v":2.3},{"m":"c","t":90,"v":2.2},{"m":"c","t":100,"v":2.12},{"m":"c","t":110,"v":2.07},{"m":"c","t":120,"v":2.05},{"m":"c","t":130,"v":2.05},{"m":"c","t":140,"v":2.05},{"m":"c","t":150,"v":2.07},{"m":"c","t":160,"v":2.1},{"m":"c","t":170,"v":2.1},{"m":"c","t":180,"v":2.08},{"m":"c","t":190,"v":2.0},{"m":"c","t":200,"v":1.85},
{"m":"d","t":30,"v":-1.5},{"m":"d","t":40,"v":-1.55},{"m":"d","t":50,"v":-1.58},{"m":"d","t":60,"v":-1.6},{"m":"d","t":70,"v":-1.6},{"m":"d","t":80,"v":-1.62},{"m":"d","t":90,"v":-1.62},{"m":"d","t":100,"v":-1.6},{"m":"d","t":110,"v":-1.58},{"m":"d","t":120,"v":-1.55},{"m":"d","t":130,"v":-1.5},{"m":"d","t":140,"v":-1.42},{"m":"d","t":150,"v":-1.35},{"m":"d","t":160,"v":-1.28},{"m":"d","t":170,"v":-1.22},{"m":"d","t":180,"v":-1.2},{"m":"d","t":190,"v":-1.25},{"m":"d","t":200,"v":-1.45},
{"m":"e","t":30,"v":1.88},{"m":"e","t":40,"v":1.72},{"m":"e","t":50,"v":1.57},{"m":"e","t":60,"v":1.43},{"m":"e","t":70,"v":1.3},{"m":"e","t":80,"v":1.18},{"m":"e","t":90,"v":1.05},{"m":"e","t":100,"v":0.93},{"m":"e","t":110,"v":0.82},{"m":"e","t":120,"v":0.72},{"m":"e","t":130,"v":0.62},{"m":"e","t":140,"v":0.52},{"m":"e","t":150,"v":0.43},{"m":"e","t":160,"v":0.35},{"m":"e","t":170,"v":0.28},{"m":"e","t":180,"v":0.22},{"m":"e","t":190,"v":0.18},{"m":"e","t":200,"v":0.15},
{"m":"f","t":30,"v":0.62},{"m":"f","t":40,"v":0.53},{"m":"f","t":50,"v":0.45},{"m":"f","t":60,"v":0.37},{"m":"f","t":70,"v":0.3},{"m":"f","t":80,"v":0.22},{"m":"f","t":90,"v":0.15},{"m":"f","t":100,"v":0.07},{"m":"f","t":110,"v":0.0},{"m":"f","t":120,"v":-0.07},{"m":"f","t":130,"v":-0.13},{"m":"f","t":140,"v":-0.2},{"m":"f","t":150,"v":-0.25},{"m":"f","t":160,"v":-0.3},{"m":"f","t":170,"v":-0.35},{"m":"f","t":180,"v":-0.37},{"m":"f","t":190,"v":-0.38},{"m":"f","t":200,"v":-0.35}
],
"p21":[
{"m":"a","t":30,"v":-0.4},{"m":"a","t":40,"v":-0.35},{"m":"a","t":50,"v":-0.32},{"m":"a","t":60,"v":-0.27},{"m":"a","t":70,"v":-0.2},{"m":"a","t":80,"v":-0.1},{"m":"a","t":90,"v":0.05},{"m":"a","t":100,"v":0.2},{"m":"a","t":110,"v":0.4},{"m":"a","t":120,"v":0.6},{"m":"a","t":130,"v":0.82},{"m":"a","t":140,"v":1.05},{"m":"a","t":150,"v":1.27},{"m":"a","t":160,"v":1.5},{"m":"a","t":170,"v":1.7},{"m":"a","t":180,"v":1.9},{"m":"a","t":190,"v":2.08},
{"m":"b","t":30,"v":1.18},{"m":"b","t":40,"v":1.05},{"m":"b","t":50,"v":0.93},{"m":"b","t":60,"v":0.8},{"m":"b","t":70,"v":0.68},{"m":"b","t":80,"v":0.57},{"m":"b","t":90,"v":0.46},{"m":"b","t":100,"v":0.35},{"m":"b","t":110,"v":0.25},{"m":"b","t":120,"v":0.15},{"m":"b","t":130,"v":0.06},{"m":"b","t":140,"v":-0.02},{"m":"b","t":150,"v":-0.1},{"m":"b","t":160,"v":-0.17},{"m":"b","t":170,"v":-0.23},{"m":"b","t":180,"v":-0.3},{"m":"b","t":190,"v":-0.35},
{"m":"c","t":30,"v":3.4},{"m":"c","t":40,"v":3.27},{"m":"c","t":50,"v":3.15},{"m":"c","t":60,"v":3.05},{"m":"c","t":70,"v":2.95},{"m":"c","t":80,"v":2.87},{"m":"c","t":90,"v":2.8},{"m":"c","t":100,"v":2.75},{"m":"c","t":110,"v":2.7},{"m":"c","t":120,"v":2.68},{"m":"c","t":130,"v":2.65},{"m":"c","t":140,"v":2.63},{"m":"c","t":150,"v":2.62},{"m":"c","t":160,"v":2.62},{"m":"c","t":170,"v":2.62},{"m":"c","t":180,"v":2.6},{"m":"c","t":190,"v":2.6},
{"m":"d","t":30,"v":-0.25},{"m":"d","t":40,"v":-0.27},{"m":"d","t":50,"v":-0.28},{"m":"d","t":60,"v":-0.28},{"m":"d","t":70,"v":-0.27},{"m":"d","t":80,"v":-0.25},{"m":"d","t":90,"v":-0.22},{"m":"d","t":100,"v":-0.18},{"m":"d","t":110,"v":-0.13},{"m":"d","t":120,"v":-0.08},{"m":"d","t":130,"v":-0.03},{"m":"d","t":140,"v":0.02},{"m":"d","t":150,"v":0.07},{"m":"d","t":160,"v":0.12},{"m":"d","t":170,"v":0.17},{"m":"d","t":180,"v":0.2},{"m":"d","t":190,"v":0.2},
{"m":"e","t":30,"v":1.6},{"m":"e","t":40,"v":1.45},{"m":"e","t":50,"v":1.3},{"m":"e","t":60,"v":1.15},{"m":"e","t":70,"v":1.0},{"m":"e","t":80,"v":0.87},{"m":"e","t":90,"v":0.73},{"m":"e","t":100,"v":0.6},{"m":"e","t":110,"v":0.48},{"m":"e","t":120,"v":0.37},{"m":"e","t":130,"v":0.27},{"m":"e","t":140,"v":0.17},{"m":"e","t":150,"v":0.1},{"m":"e","t":160,"v":0.03},{"m":"e","t":170,"v":-0.05},{"m":"e","t":180,"v":-0.15},{"m":"e","t":190,"v":-0.22},
{"m":"f","t":30,"v":0.3},{"m":"f","t":40,"v":0.2},{"m":"f","t":50,"v":0.12},{"m":"f","t":60,"v":0.05},{"m":"f","t":70,"v":-0.03},{"m":"f","t":80,"v":-0.1},{"m":"f","t":90,"v":-0.18},{"m":"f","t":100,"v":-0.25},{"m":"f","t":110,"v":-0.32},{"m":"f","t":120,"v":-0.4},{"m":"f","t":130,"v":-0.47},{"m":"f","t":140,"v":-0.55},{"m":"f","t":150,"v":-0.62},{"m":"f","t":160,"v":-0.68},{"m":"f","t":170,"v":-0.73},{"m":"f","t":180,"v":-0.78},{"m":"f","t":190,"v":-0.8}
],
"p22":[
{"m":"a","t":30,"v":-1.1},{"m":"a","t":40,"v":-1.15},{"m":"a","t":50,"v":-1.18},{"m":"a","t":60,"v":-1.25},{"m":"a","t":70,"v":-1.28},{"m":"a","t":80,"v":-1.22},{"m":"a","t":90,"v":-1.1},{"m":"a","t":100,"v":-0.95},{"m":"a","t":110,"v":-0.75},{"m":"a","t":120,"v":-0.55},{"m":"a","t":130,"v":-0.32},{"m":"a","t":140,"v":-0.1},{"m":"a","t":150,"v":0.12},{"m":"a","t":160,"v":0.37},{"m":"a","t":170,"v":0.62},{"m":"a","t":180,"v":0.85},{"m":"a","t":190,"v":1.05},
{"m":"b","t":30,"v":1.35},{"m":"b","t":40,"v":1.22},{"m":"b","t":50,"v":1.1},{"m":"b","t":60,"v":0.97},{"m":"b","t":70,"v":0.85},{"m":"b","t":80,"v":0.73},{"m":"b","t":90,"v":0.62},{"m":"b","t":100,"v":0.5},{"m":"b","t":110,"v":0.4},{"m":"b","t":120,"v":0.3},{"m":"b","t":130,"v":0.2},{"m":"b","t":140,"v":0.1},{"m":"b","t":150,"v":0.02},{"m":"b","t":160,"v":-0.07},{"m":"b","t":170,"v":-0.12},{"m":"b","t":180,"v":-0.17},{"m":"b","t":190,"v":-0.2},
{"m":"c","t":30,"v":3.35},{"m":"c","t":40,"v":3.12},{"m":"c","t":50,"v":2.95},{"m":"c","t":60,"v":2.8},{"m":"c","t":70,"v":2.68},{"m":"c","t":80,"v":2.57},{"m":"c","t":90,"v":2.47},{"m":"c","t":100,"v":2.38},{"m":"c","t":110,"v":2.32},{"m":"c","t":120,"v":2.3},{"m":"c","t":130,"v":2.3},{"m":"c","t":140,"v":2.32},{"m":"c","t":150,"v":2.35},{"m":"c","t":160,"v":2.4},{"m":"c","t":170,"v":2.45},{"m":"c","t":180,"v":2.48},{"m":"c","t":190,"v":2.48},
{"m":"d","t":30,"v":-1.2},{"m":"d","t":40,"v":-1.25},{"m":"d","t":50,"v":-1.28},{"m":"d","t":60,"v":-1.3},{"m":"d","t":70,"v":-1.35},{"m":"d","t":80,"v":-1.38},{"m":"d","t":90,"v":-1.4},{"m":"d","t":100,"v":-1.4},{"m":"d","t":110,"v":-1.38},{"m":"d","t":120,"v":-1.33},{"m":"d","t":130,"v":-1.27},{"m":"d","t":140,"v":-1.2},{"m":"d","t":150,"v":-1.1},{"m":"d","t":160,"v":-1.02},{"m":"d","t":170,"v":-0.95},{"m":"d","t":180,"v":-0.9},{"m":"d","t":190,"v":-0.88},
{"m":"e","t":30,"v":1.78},{"m":"e","t":40,"v":1.6},{"m":"e","t":50,"v":1.45},{"m":"e","t":60,"v":1.3},{"m":"e","t":70,"v":1.15},{"m":"e","t":80,"v":1.02},{"m":"e","t":90,"v":0.9},{"m":"e","t":100,"v":0.77},{"m":"e","t":110,"v":0.65},{"m":"e","t":120,"v":0.53},{"m":"e","t":130,"v":0.42},{"m":"e","t":140,"v":0.32},{"m":"e","t":150,"v":0.22},{"m":"e","t":160,"v":0.13},{"m":"e","t":170,"v":0.05},{"m":"e","t":180,"v":0.0},{"m":"e","t":190,"v":-0.05},
{"m":"f","t":30,"v":0.5},{"m":"f","t":40,"v":0.42},{"m":"f","t":50,"v":0.35},{"m":"f","t":60,"v":0.27},{"m":"f","t":70,"v":0.18},{"m":"f","t":80,"v":0.08},{"m":"f","t":90,"v":-0.02},{"m":"f","t":100,"v":-0.1},{"m":"f","t":110,"v":-0.18},{"m":"f","t":120,"v":-0.27},{"m":"f","t":130,"v":-0.35},{"m":"f","t":140,"v":-0.43},{"m":"f","t":150,"v":-0.5},{"m":"f","t":160,"v":-0.57},{"m":"f","t":170,"v":-0.62},{"m":"f","t":180,"v":-0.65},{"m":"f","t":190,"v":-0.62}
],
"p23":[
{"m":"a","t":30,"v":-1.2},{"m":"a","t":40,"v":-1.15},{"m":"a","t":50,"v":-1.15},{"m":"a","t":60,"v":-1.18},{"m":"a","t":70,"v":-1.15},{"m":"a","t":80,"v":-1.08},{"m":"a","t":90,"v":-0.95},{"m":"a","t":100,"v":-0.8},{"m":"a","t":110,"v":-0.62},{"m":"a","t":120,"v":-0.43},{"m":"a","t":130,"v":-0.22},{"m":"a","t":140,"v":0.0},{"m":"a","t":150,"v":0.22},{"m":"a","t":160,"v":0.47},{"m":"a","t":170,"v":0.7},{"m":"a","t":180,"v":0.95},{"m":"a","t":190,"v":1.15},
{"m":"b","t":30,"v":1.42},{"m":"b","t":40,"v":1.28},{"m":"b","t":50,"v":1.15},{"m":"b","t":60,"v":1.02},{"m":"b","t":70,"v":0.9},{"m":"b","t":80,"v":0.78},{"m":"b","t":90,"v":0.67},{"m":"b","t":100,"v":0.56},{"m":"b","t":110,"v":0.45},{"m":"b","t":120,"v":0.35},{"m":"b","t":130,"v":0.25},{"m":"b","t":140,"v":0.15},{"m":"b","t":150,"v":0.07},{"m":"b","t":160,"v":-0.02},{"m":"b","t":170,"v":-0.08},{"m":"b","t":180,"v":-0.12},{"m":"b","t":190,"v":-0.12},
{"m":"c","t":30,"v":3.4},{"m":"c","t":40,"v":3.2},{"m":"c","t":50,"v":3.02},{"m":"c","t":60,"v":2.87},{"m":"c","t":70,"v":2.75},{"m":"c","t":80,"v":2.63},{"m":"c","t":90,"v":2.55},{"m":"c","t":100,"v":2.48},{"m":"c","t":110,"v":2.43},{"m":"c","t":120,"v":2.42},{"m":"c","t":130,"v":2.42},{"m":"c","t":140,"v":2.43},{"m":"c","t":150,"v":2.47},{"m":"c","t":160,"v":2.52},{"m":"c","t":170,"v":2.55},{"m":"c","t":180,"v":2.58},{"m":"c","t":190,"v":2.58},
{"m":"d","t":30,"v":-1.0},{"m":"d","t":40,"v":-1.1},{"m":"d","t":50,"v":-1.15},{"m":"d","t":60,"v":-1.18},{"m":"d","t":70,"v":-1.22},{"m":"d","t":80,"v":-1.25},{"m":"d","t":90,"v":-1.28},{"m":"d","t":100,"v":-1.28},{"m":"d","t":110,"v":-1.25},{"m":"d","t":120,"v":-1.2},{"m":"d","t":130,"v":-1.12},{"m":"d","t":140,"v":-1.05},{"m":"d","t":150,"v":-0.98},{"m":"d","t":160,"v":-0.9},{"m":"d","t":170,"v":-0.82},{"m":"d","t":180,"v":-0.77},{"m":"d","t":190,"v":-0.78},
{"m":"e","t":30,"v":1.83},{"m":"e","t":40,"v":1.65},{"m":"e","t":50,"v":1.5},{"m":"e","t":60,"v":1.35},{"m":"e","t":70,"v":1.2},{"m":"e","t":80,"v":1.07},{"m":"e","t":90,"v":0.93},{"m":"e","t":100,"v":0.82},{"m":"e","t":110,"v":0.7},{"m":"e","t":120,"v":0.58},{"m":"e","t":130,"v":0.47},{"m":"e","t":140,"v":0.37},{"m":"e","t":150,"v":0.27},{"m":"e","t":160,"v":0.17},{"m":"e","t":170,"v":0.08},{"m":"e","t":180,"v":0.02},{"m":"e","t":190,"v":0.0},
{"m":"f","t":30,"v":0.6},{"m":"f","t":40,"v":0.5},{"m":"f","t":50,"v":0.42},{"m":"f","t":60,"v":0.32},{"m":"f","t":70,"v":0.22},{"m":"f","t":80,"v":0.12},{"m":"f","t":90,"v":0.02},{"m":"f","t":100,"v":-0.07},{"m":"f","t":110,"v":-0.15},{"m":"f","t":120,"v":-0.23},{"m":"f","t":130,"v":-0.32},{"m":"f","t":140,"v":-0.4},{"m":"f","t":150,"v":-0.47},{"m":"f","t":160,"v":-0.53},{"m":"f","t":170,"v":-0.58},{"m":"f","t":180,"v":-0.6},{"m":"f","t":190,"v":-0.58}
]
},
"concat":[
{"title":{"text":"水样1","offset":-9,"dx":-8},"width":114,"height":83,
"encoding":{"x":{"field":"t","type":"quantitative","title":"温度(℃)","scale":{"domain":[10,215],"nice":false,"zero":false},"axis":{"values":[30,60,90,120,150,180,210]}},"y":{"field":"v","type":"quantitative","title":"饱和指数","scale":{"domain":[-0.59,2.63],"nice":false,"zero":false},"axis":{"values":[-0.5,0,0.5,1,1.5,2,2.5],"labelExpr":"replace(format(datum.value,'.1f'),'−','-')"}}},
"layer":[
{"data":{"name":"p1"},"transform":[{"lookup":"m","from":{"data":{"name":"names"},"key":"m","fields":["n"]}}],"mark":"point","encoding":{"shape":{"field":"n","type":"nominal","title":null,"scale":{"domain":["硬石膏","玉髓","萤石","石膏","石英","非定形SiO₂"]}}}},
{"data":{"values":[{"t":10,"t2":215,"v":0}]},"mark":"rule","encoding":{"x2":{"field":"t2"}}}
]},
{"title":{"text":"水样2","offset":-9,"dx":-6},"width":114,"height":83,
"encoding":{"x":{"field":"t","type":"quantitative","title":"温度(℃)","scale":{"domain":[10,215],"nice":false,"zero":false},"axis":{"values":[30,60,90,120,150,180,210]}},"y":{"field":"v","type":"quantitative","title":"饱和指数","scale":{"domain":[-1.3,3.55],"nice":false,"zero":false},"axis":{"values":[-1,-0.5,0,0.5,1,1.5,2,2.5,3,3.5],"labelExpr":"replace(format(datum.value,'.1f'),'−','-')"}}},
"layer":[
{"data":{"name":"p2"},"transform":[{"lookup":"m","from":{"data":{"name":"names"},"key":"m","fields":["n"]}}],"mark":"point","encoding":{"shape":{"field":"n","type":"nominal","title":null,"scale":{"domain":["硬石膏","玉髓","萤石","石膏","石英","非定形SiO₂"]}}}},
{"data":{"values":[{"t":10,"t2":215,"v":0}]},"mark":"rule","encoding":{"x2":{"field":"t2"}}},
{"data":{"values":[{"t":120,"v":-1.3,"v2":0.25}]},"mark":"rule","encoding":{"y2":{"field":"v2"}}}
]},
{"title":{"text":"水样3","offset":-21,"dx":-6},"width":114,"height":83,
"encoding":{"x":{"field":"t","type":"quantitative","title":"温度(℃)","scale":{"domain":[10,215],"nice":false,"zero":false},"axis":{"values":[30,60,90,120,150,180,210]}},"y":{"field":"v","type":"quantitative","title":"饱和指数","scale":{"domain":[-2.0,3.05],"nice":false,"zero":false},"axis":{"values":[-2,-1.5,-1,-0.5,0,0.5,1,1.5,2,2.5,3],"labelExpr":"replace(format(datum.value,'.1f'),'−','-')"}}},
"layer":[
{"data":{"name":"p3"},"transform":[{"lookup":"m","from":{"data":{"name":"names"},"key":"m","fields":["n"]}}],"mark":"point","encoding":{"shape":{"field":"n","type":"nominal","title":null,"scale":{"domain":["硬石膏","玉髓","萤石","石膏","石英","非定形SiO₂"]}}}},
{"data":{"values":[{"t":10,"t2":215,"v":0}]},"mark":"rule","encoding":{"x2":{"field":"t2"}}},
{"data":{"values":[{"t":145,"v":-2.0,"v2":0.0}]},"mark":"rule","encoding":{"y2":{"field":"v2"}}}
]},
{"title":{"text":"水样4","offset":-17,"dx":-13},"width":114,"height":83,
"encoding":{"x":{"field":"t","type":"quantitative","title":"温度(℃)","scale":{"domain":[10,215],"nice":false,"zero":false},"axis":{"values":[30,60,90,120,150,180,210]}},"y":{"field":"v","type":"quantitative","title":"饱和指数","scale":{"domain":[-1.8,3.05],"nice":false,"zero":false},"axis":{"values":[-1.5,-1,-0.5,0,0.5,1,1.5,2,2.5,3],"labelExpr":"replace(format(datum.value,'.1f'),'−','-')"}}},
"layer":[
{"data":{"name":"p4"},"transform":[{"lookup":"m","from":{"data":{"name":"names"},"key":"m","fields":["n"]}}],"mark":"point","encoding":{"shape":{"field":"n","type":"nominal","title":null,"scale":{"domain":["硬石膏","玉髓","萤石","石膏","石英","非定形SiO₂"]}}}},
{"data":{"values":[{"t":10,"t2":215,"v":0}]},"mark":"rule","encoding":{"x2":{"field":"t2"}}},
{"data":{"values":[{"t":160,"v":-1.8,"v2":0.2}]},"mark":"rule","encoding":{"y2":{"field":"v2"}}}
]},
{"title":{"text":"水样15","offset":-24,"dx":-8},"width":114,"height":83,
"encoding":{"x":{"field":"t","type":"quantitative","title":"温度(℃)","scale":{"domain":[10,215],"nice":false,"zero":false},"axis":{"values":[30,60,90,120,150,180,210]}},"y":{"field":"v","type":"quantitative","title":"饱和指数","scale":{"domain":[-1.65,3.2],"nice":false,"zero":false},"axis":{"values":[-1.5,-1,-0.5,0,0.5,1,1.5,2,2.5,3],"labelExpr":"replace(format(datum.value,'.1f'),'−','-')"}}},
"layer":[
{"data":{"name":"p15"},"transform":[{"lookup":"m","from":{"data":{"name":"names"},"key":"m","fields":["n"]}}],"mark":"point","encoding":{"shape":{"field":"n","type":"nominal","title":null,"scale":{"domain":["硬石膏","玉髓","萤石","石膏","石英","非定形SiO₂"]}}}},
{"data":{"values":[{"t":10,"t2":215,"v":0}]},"mark":"rule","encoding":{"x2":{"field":"t2"}}},
{"data":{"values":[{"t":150,"v":-1.65,"v2":0.15}]},"mark":"rule","encoding":{"y2":{"field":"v2"}}}
]},
{"title":{"text":"水样16","offset":-12,"dx":-6},"width":114,"height":83,
"encoding":{"x":{"field":"t","type":"quantitative","title":"温度(℃)","scale":{"domain":[10,215],"nice":false,"zero":false},"axis":{"values":[30,60,90,120,150,180,210]}},"y":{"field":"v","type":"quantitative","title":"饱和指数","scale":{"domain":[-1.5,3.5],"nice":false,"zero":false},"axis":{"values":[-1.5,-1,-0.5,0,0.5,1,1.5,2,2.5,3,3.5],"labelExpr":"replace(format(datum.value,'.1f'),'−','-')"}}},
"layer":[
{"data":{"name":"p16"},"transform":[{"lookup":"m","from":{"data":{"name":"names"},"key":"m","fields":["n"]}}],"mark":"point","encoding":{"shape":{"field":"n","type":"nominal","title":null,"scale":{"domain":["硬石膏","玉髓","萤石","石膏","石英","非定形SiO₂"]}}}},
{"data":{"values":[{"t":10,"t2":215,"v":0}]},"mark":"rule","encoding":{"x2":{"field":"t2"}}},
{"data":{"values":[{"t":150,"v":-1.5,"v2":0.1}]},"mark":"rule","encoding":{"y2":{"field":"v2"}}}
]},
{"title":{"text":"水样17","offset":-14,"dx":-25},"width":114,"height":83,
"encoding":{"x":{"field":"t","type":"quantitative","title":"温度(℃)","scale":{"domain":[10,215],"nice":false,"zero":false},"axis":{"values":[30,60,90,120,150,180,210]}},"y":{"field":"v","type":"quantitative","title":"饱和指数","scale":{"domain":[-1.5,1.5],"nice":false,"zero":false},"axis":{"values":[-1.5,-1,-0.5,0,0.5,1,1.5],"labelExpr":"replace(format(datum.value,'.1f'),'−','-')"}}},
"layer":[
{"data":{"name":"p17"},"transform":[{"lookup":"m","from":{"data":{"name":"names"},"key":"m","fields":["n"]}}],"mark":"point","encoding":{"shape":{"field":"n","type":"nominal","title":null,"scale":{"domain":["硬石膏","玉髓","萤石","石膏","石英","非定形SiO₂"]}}}},
{"data":{"values":[{"t":10,"t2":215,"v":0}]},"mark":"rule","encoding":{"x2":{"field":"t2"}}},
{"data":{"values":[{"t":128,"v":-1.5,"v2":0.2}]},"mark":"rule","encoding":{"y2":{"field":"v2"}}}
]},
{"title":{"text":"水样18","offset":-12,"dx":-6},"width":114,"height":83,
"encoding":{"x":{"field":"t","type":"quantitative","title":"温度(℃)","scale":{"domain":[10,215],"nice":false,"zero":false},"axis":{"values":[30,60,90,120,150,180,210]}},"y":{"field":"v","type":"quantitative","title":"饱和指数","scale":{"domain":[-1.5,3.2],"nice":false,"zero":false},"axis":{"values":[-1.5,-1,-0.5,0,0.5,1,1.5,2,2.5,3],"labelExpr":"replace(format(datum.value,'.1f'),'−','-')"}}},
"layer":[
{"data":{"name":"p18"},"transform":[{"lookup":"m","from":{"data":{"name":"names"},"key":"m","fields":["n"]}}],"mark":"point","encoding":{"shape":{"field":"n","type":"nominal","title":null,"scale":{"domain":["硬石膏","玉髓","萤石","石膏","石英","非定形SiO₂"]}}}},
{"data":{"values":[{"t":10,"t2":215,"v":0}]},"mark":"rule","encoding":{"x2":{"field":"t2"}}},
{"data":{"values":[{"t":150,"v":-1.5,"v2":0.15}]},"mark":"rule","encoding":{"y2":{"field":"v2"}}}
]},
{"title":{"text":"水样19","offset":-12,"dx":-28},"width":114,"height":83,
"encoding":{"x":{"field":"t","type":"quantitative","title":"温度(℃)","scale":{"domain":[10,215],"nice":false,"zero":false},"axis":{"values":[30,60,90,120,150,180,210]}},"y":{"field":"v","type":"quantitative","title":"饱和指数","scale":{"domain":[0.35,5.0],"nice":false,"zero":false},"axis":{"values":[0.5,1,1.5,2,2.5,3,3.5,4,4.5,5],"labelExpr":"replace(format(datum.value,'.1f'),'−','-')"}}},
"layer":[
{"data":{"name":"p19"},"transform":[{"lookup":"m","from":{"data":{"name":"names"},"key":"m","fields":["n"]}}],"mark":"point","encoding":{"shape":{"field":"n","type":"nominal","title":null,"scale":{"domain":["硬石膏","玉髓","萤石","石膏","石英","非定形SiO₂"]}}}}
]},
{"title":{"text":"水样20","offset":-12,"dx":-6},"width":114,"height":83,
"encoding":{"x":{"field":"t","type":"quantitative","title":"温度(℃)","scale":{"domain":[10,215],"nice":false,"zero":false},"axis":{"values":[30,60,90,120,150,180,210]}},"y":{"field":"v","type":"quantitative","title":"饱和指数","scale":{"domain":[-1.68,3.15],"nice":false,"zero":false},"axis":{"values":[-1.5,-1,-0.5,0,0.5,1,1.5,2,2.5,3],"labelExpr":"replace(format(datum.value,'.1f'),'−','-')"}}},
"layer":[
{"data":{"name":"p20"},"transform":[{"lookup":"m","from":{"data":{"name":"names"},"key":"m","fields":["n"]}}],"mark":"point","encoding":{"shape":{"field":"n","type":"nominal","title":null,"scale":{"domain":["硬石膏","玉髓","萤石","石膏","石英","非定形SiO₂"]}}}},
{"data":{"values":[{"t":10,"t2":215,"v":0}]},"mark":"rule","encoding":{"x2":{"field":"t2"}}},
{"data":{"values":[{"t":165,"v":-1.68,"v2":0.3}]},"mark":"rule","encoding":{"y2":{"field":"v2"}}}
]},
{"title":{"text":"水样21","offset":-13,"dx":-11},"width":114,"height":83,
"encoding":{"x":{"field":"t","type":"quantitative","title":"温度(℃)","scale":{"domain":[10,215],"nice":false,"zero":false},"axis":{"values":[30,60,90,120,150,180,210]}},"y":{"field":"v","type":"quantitative","title":"饱和指数","scale":{"domain":[-1.0,3.55],"nice":false,"zero":false},"axis":{"values":[-1,-0.5,0,0.5,1,1.5,2,2.5,3,3.5],"labelExpr":"replace(format(datum.value,'.1f'),'−','-')"}}},
"layer":[
{"data":{"name":"p21"},"transform":[{"lookup":"m","from":{"data":{"name":"names"},"key":"m","fields":["n"]}}],"mark":"point","encoding":{"shape":{"field":"n","type":"nominal","title":null,"scale":{"domain":["硬石膏","玉髓","萤石","石膏","石英","非定形SiO₂"]}}}},
{"data":{"values":[{"t":10,"t2":215,"v":0}]},"mark":"rule","encoding":{"x2":{"field":"t2"}}},
{"data":{"values":[{"t":140,"v":-1.0,"v2":0.05}]},"mark":"rule","encoding":{"y2":{"field":"v2"}}}
]},
{"title":{"text":"水样22","offset":-13,"dx":-11},"width":114,"height":83,
"encoding":{"x":{"field":"t","type":"quantitative","title":"温度(℃)","scale":{"domain":[10,215],"nice":false,"zero":false},"axis":{"values":[30,60,90,120,150,180,210]}},"y":{"field":"v","type":"quantitative","title":"饱和指数","scale":{"domain":[-1.5,3.55],"nice":false,"zero":false},"axis":{"values":[-1.5,-1,-0.5,0,0.5,1,1.5,2,2.5,3,3.5],"labelExpr":"replace(format(datum.value,'.1f'),'−','-')"}}},
"layer":[
{"data":{"name":"p22"},"transform":[{"lookup":"m","from":{"data":{"name":"names"},"key":"m","fields":["n"]}}],"mark":"point","encoding":{"shape":{"field":"n","type":"nominal","title":null,"scale":{"domain":["硬石膏","玉髓","萤石","石膏","石英","非定形SiO₂"]}}}},
{"data":{"values":[{"t":10,"t2":215,"v":0}]},"mark":"rule","encoding":{"x2":{"field":"t2"}}},
{"data":{"values":[{"t":150,"v":-1.5,"v2":0.05}]},"mark":"rule","encoding":{"y2":{"field":"v2"}}}
]},
{"title":{"text":"水样23","offset":-13,"dx":-6},"width":114,"height":83,
"encoding":{"x":{"field":"t","type":"quantitative","title":"温度(℃)","scale":{"domain":[10,215],"nice":false,"zero":false},"axis":{"values":[30,60,90,120,150,180,210]}},"y":{"field":"v","type":"quantitative","title":"饱和指数","scale":{"domain":[-1.5,3.55],"nice":false,"zero":false},"axis":{"values":[-1.5,-1,-0.5,0,0.5,1,1.5,2,2.5,3,3.5],"labelExpr":"replace(format(datum.value,'.1f'),'−','-')"}}},
"layer":[
{"data":{"name":"p23"},"transform":[{"lookup":"m","from":{"data":{"name":"names"},"key":"m","fields":["n"]}}],"mark":"point","encoding":{"shape":{"field":"n","type":"nominal","title":null,"scale":{"domain":["硬石膏","玉髓","萤石","石膏","石英","非定形SiO₂"]}}}},
{"data":{"values":[{"t":10,"t2":215,"v":0}]},"mark":"rule","encoding":{"x2":{"field":"t2"}}},
{"data":{"values":[{"t":150,"v":-1.5,"v2":0.1}]},"mark":"rule","encoding":{"y2":{"field":"v2"}}}
]}
]
}
